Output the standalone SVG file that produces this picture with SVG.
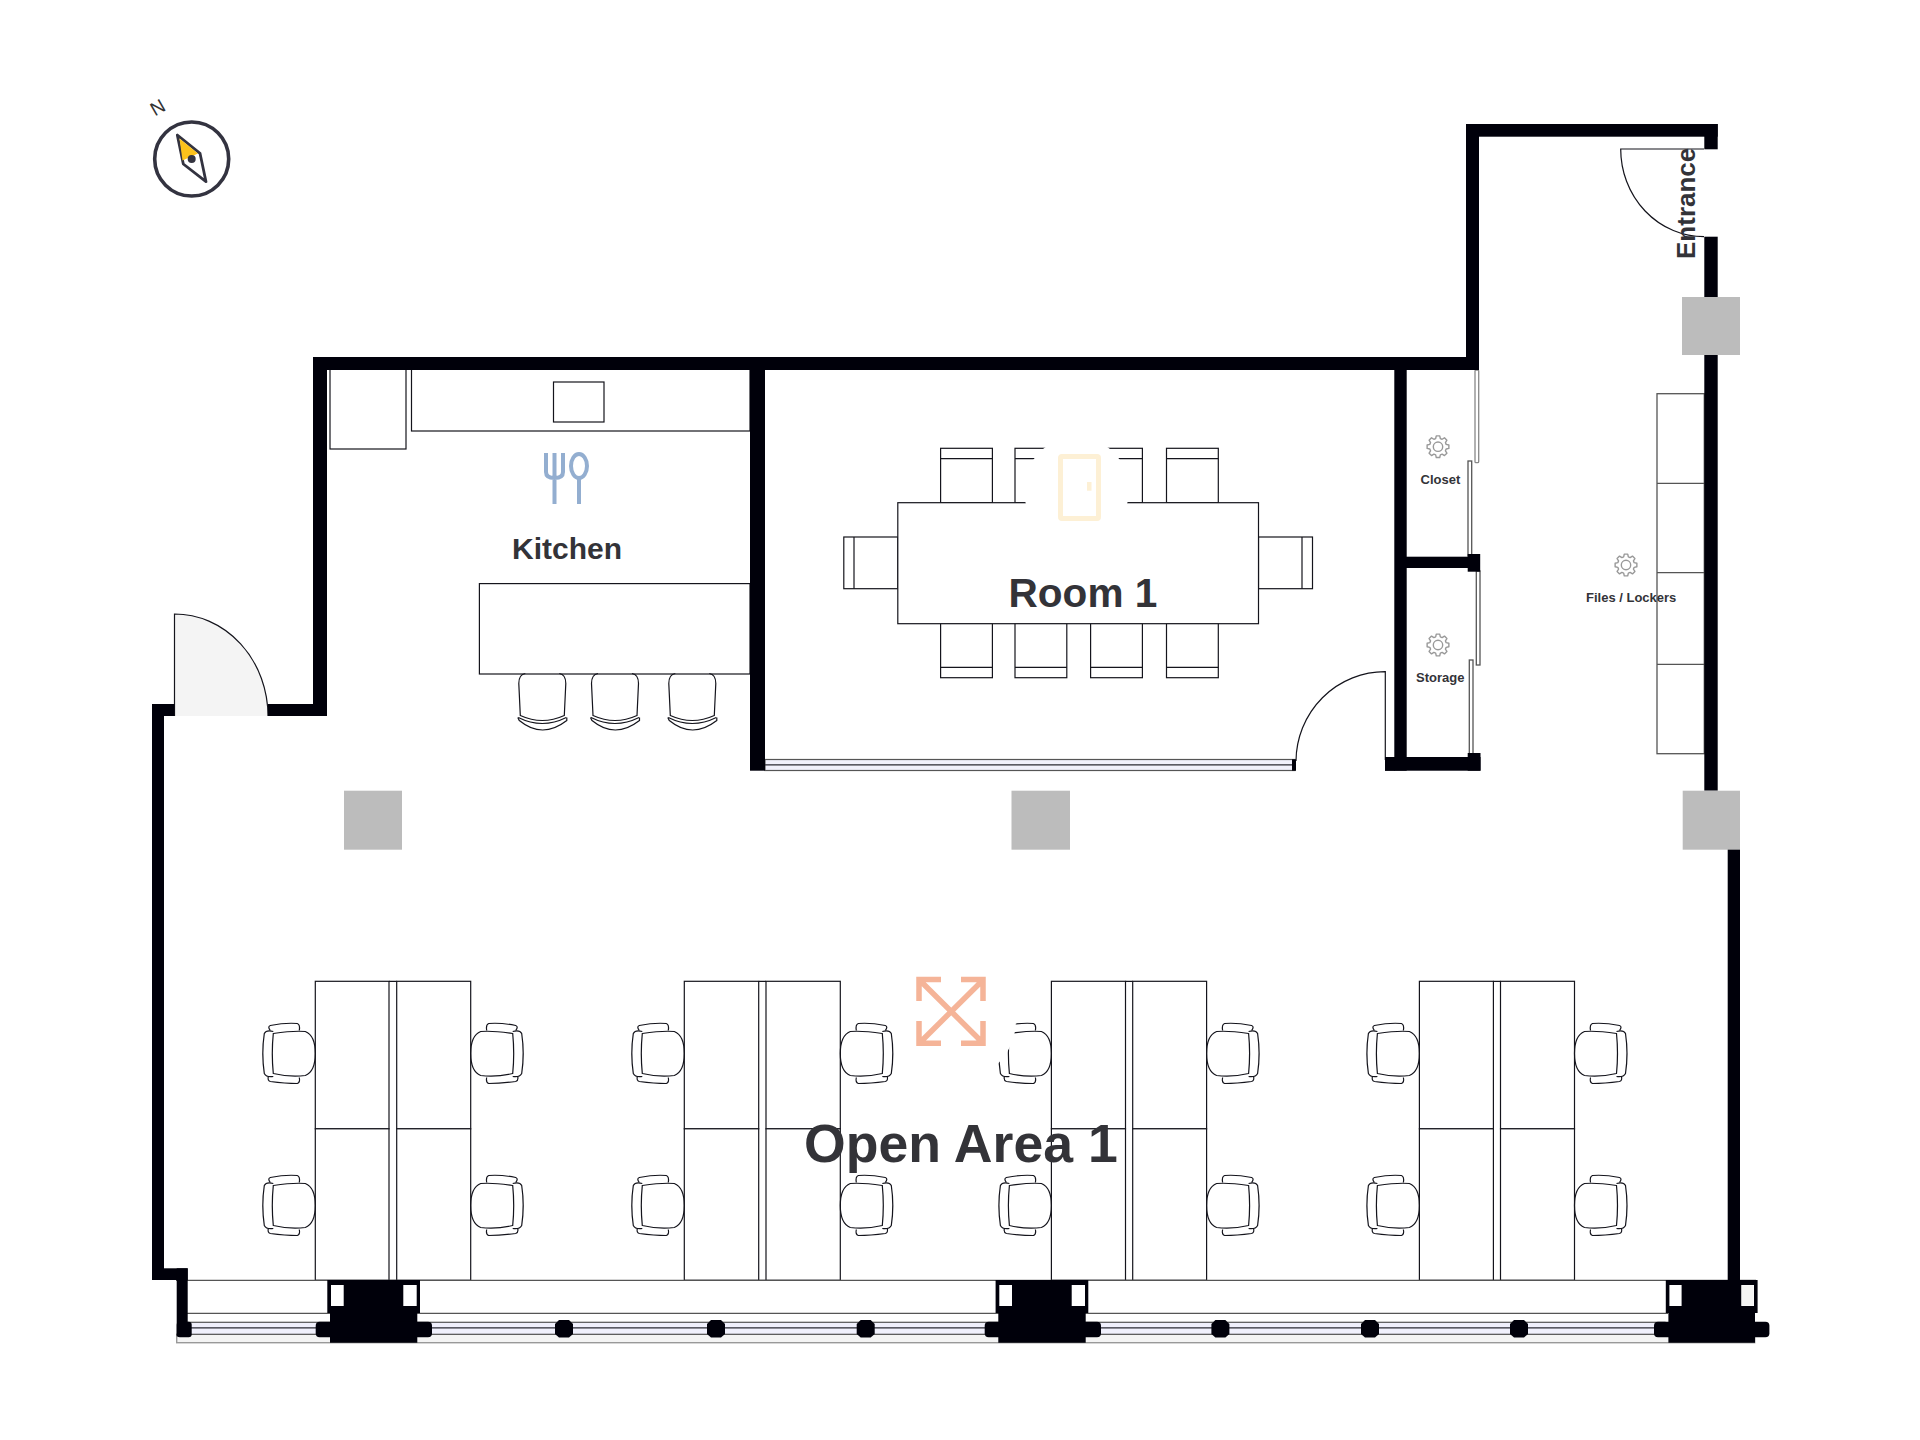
<svg xmlns="http://www.w3.org/2000/svg" width="1920" height="1440" viewBox="0 0 1920 1440">
<style>
.w{fill:#00000a}
.l{fill:none;stroke:#14141c;stroke-width:1.2}
.f{fill:#fff;stroke:#14141c;stroke-width:1.2}
.c{fill:#bcbcbc}
.t{font-family:"Liberation Sans",Arial,sans-serif;font-weight:700;fill:#333338}
.pl{fill:#fff;stroke:#555;stroke-width:1.3}
.win{fill:#f0f0fc;stroke:#555;stroke-width:1.2}
.g{fill:none;stroke:#999;stroke-width:1.4;stroke-linejoin:round}
</style>
<defs>
<g id="dc" class="l">
<path d="M-42 -20Q-22 -23 -10 -22Q0 -18 0 0Q0 18 -10 22Q-25 24 -42 20Q-44 0 -42 -20Z"/>
<path d="M-42 -22Q-49 -24 -51 -20Q-54 0 -51 20Q-49 24 -42 23"/>
<path d="M-45 -23Q-48 -27 -45 -28Q-30 -31 -18 -30Q-15 -29 -16 -23"/>
<path d="M-47 23Q-48 27 -45 28Q-30 30 -18 30Q-15 29 -16 24"/>
</g>
<g id="st" class="l">
<path d="M-17 0Q-23.5 1 -23.5 10L-22 42Q0 52 22 42L23.5 10Q23.5 1 17 0"/>
<path d="M-24 44Q0 56 24 44"/>
<path d="M-24.5 44L-23 47Q0 66 24.5 47L24.5 44"/>
</g>
<g id="cht" class="f">
<rect x="0" y="0" width="51.8" height="54.4"/>
<path d="M0 10.4H51.8"/>
</g>
<polygon id="gear" class="g" points="10.87,1.72 8.17,2.34 7.43,4.12 8.9,6.47 6.47,8.9 4.12,7.43 2.34,8.17 1.72,10.87 -1.72,10.87 -2.34,8.17 -4.12,7.43 -6.47,8.9 -8.9,6.47 -7.43,4.12 -8.17,2.34 -10.87,1.72 -10.87,-1.72 -8.17,-2.34 -7.43,-4.12 -8.9,-6.47 -6.47,-8.9 -4.12,-7.43 -2.34,-8.17 -1.72,-10.87 1.72,-10.87 2.34,-8.17 4.12,-7.43 6.47,-8.9 8.9,-6.47 7.43,-4.12 8.17,-2.34 10.87,-1.72"/>
<path id="mul" class="w" d="M-9 -5L-5 -9H5L9 -5V5L5 8.5H-5L-9 5Z"/>
</defs>
<rect width="1920" height="1440" fill="#fff"/>

<g id="furniture-kitchen">
<rect class="f" x="330" y="369" width="76" height="80"/>
<rect class="f" x="411.5" y="369" width="338.5" height="62"/>
<rect class="f" x="553.5" y="382" width="50.5" height="40"/>
<rect class="f" x="479.4" y="583.6" width="270.6" height="90.4"/>
<use href="#st" x="542.3" y="673.5"/>
<use href="#st" x="615" y="673.5"/>
<use href="#st" x="692.3" y="673.5"/>
</g>

<g id="furniture-room1">
<use href="#cht" x="940.6" y="448.3"/>
<use href="#cht" x="1015" y="448.3"/>
<use href="#cht" x="1090.6" y="448.3"/>
<use href="#cht" x="1166.5" y="448.3"/>
<use href="#cht" transform="translate(940.6 677.7) scale(1 -1)"/>
<use href="#cht" transform="translate(1015 677.7) scale(1 -1)"/>
<use href="#cht" transform="translate(1090.6 677.7) scale(1 -1)"/>
<use href="#cht" transform="translate(1166.5 677.7) scale(1 -1)"/>
<rect class="f" x="843.8" y="537" width="54" height="51.7"/>
<path class="l" d="M854 537V588.7"/>
<rect class="f" x="1258.5" y="537" width="54" height="51.7"/>
<path class="l" d="M1302 537V588.7"/>
<rect class="f" x="897.8" y="502.7" width="360.7" height="121"/>
</g>

<g id="furniture-open-area">
<g id="desk-1" class="f"><rect x="315.3" y="981.3" width="73.7" height="147.5"/><rect x="396.7" y="981.3" width="74" height="147.5"/><rect x="315.3" y="1128.8" width="73.7" height="151.5"/><rect x="396.7" y="1128.8" width="74" height="151.5"/><path d="M389 981.3H396.7M389 1280.3H396.7"/></g>
<g id="desk-2" class="f"><rect x="684.3" y="981.3" width="74.4" height="147.5"/><rect x="766" y="981.3" width="74.3" height="147.5"/><rect x="684.3" y="1128.8" width="74.4" height="151.5"/><rect x="766" y="1128.8" width="74.3" height="151.5"/><path d="M758.7 981.3H766M758.7 1280.3H766"/></g>
<g id="desk-3" class="f"><rect x="1051.4" y="981.3" width="74.1" height="147.5"/><rect x="1132.7" y="981.3" width="73.9" height="147.5"/><rect x="1051.4" y="1128.8" width="74.1" height="151.5"/><rect x="1132.7" y="1128.8" width="73.9" height="151.5"/><path d="M1125.5 981.3H1132.7M1125.5 1280.3H1132.7"/></g>
<g id="desk-4" class="f"><rect x="1419.4" y="981.3" width="74" height="147.5"/><rect x="1500.5" y="981.3" width="74" height="147.5"/><rect x="1419.4" y="1128.8" width="74" height="151.5"/><rect x="1500.5" y="1128.8" width="74" height="151.5"/><path d="M1493.4 981.3H1500.5M1493.4 1280.3H1500.5"/></g>
<use href="#dc" x="315.3" y="1053.5"/><use href="#dc" x="315.3" y="1205.5"/>
<use href="#dc" transform="translate(470.7 1053.5) scale(-1 1)"/><use href="#dc" transform="translate(470.7 1205.5) scale(-1 1)"/>
<use href="#dc" x="684.3" y="1053.5"/><use href="#dc" x="684.3" y="1205.5"/>
<use href="#dc" transform="translate(840.3 1053.5) scale(-1 1)"/><use href="#dc" transform="translate(840.3 1205.5) scale(-1 1)"/>
<use href="#dc" x="1051.4" y="1053.5"/><use href="#dc" x="1051.4" y="1205.5"/>
<use href="#dc" transform="translate(1206.6 1053.5) scale(-1 1)"/><use href="#dc" transform="translate(1206.6 1205.5) scale(-1 1)"/>
<use href="#dc" x="1419.4" y="1053.5"/><use href="#dc" x="1419.4" y="1205.5"/>
<use href="#dc" transform="translate(1574.5 1053.5) scale(-1 1)"/><use href="#dc" transform="translate(1574.5 1205.5) scale(-1 1)"/>
</g>

<g id="lockers" class="pl">
<rect x="1657" y="393.7" width="47.3" height="360"/>
<path d="M1657 483.3H1704M1657 572.7H1704M1657 664.3H1704"/>
</g>

<g id="windows">
<path class="pl" d="M176 1280.3H1756M187 1313.3H1668"/>
<rect x="176.7" y="1334.3" width="1578" height="8.4" fill="#f4f4f4" stroke="#999" stroke-width="1.4"/>
<rect class="win" x="185" y="1322.3" width="1480" height="12"/>
<path d="M185 1327.8H1665" stroke="#2a2a33" stroke-width="1.2"/>
<rect class="win" x="765" y="759.5" width="530" height="11"/>
<path d="M765 764.8H1295" stroke="#2a2a33" stroke-width="1.2"/>
</g>

<g id="doors">
<path d="M174.5 716V614A93.5 102 0 0 1 268 716Z" fill="#f4f4f4"/>
<path class="l" d="M174.5 716V614A93.5 102 0 0 1 268 716"/>
<path class="l" d="M1704 149H1620.7A83.3 87.7 0 0 0 1704 236.7"/>
<path class="l" d="M1385.3 760V671.7A89 90 0 0 0 1296 761"/>
<g class="pl">
<rect x="1475" y="370" width="3.7" height="92.7" rx="1" stroke="#888"/>
<rect x="1468" y="461" width="3.7" height="95"/>
<rect x="1476.3" y="571" width="3.7" height="94"/>
<rect x="1469.3" y="660" width="3.7" height="95"/>
</g>
</g>

<g id="walls" class="w">
<rect x="313" y="357" width="1166" height="13"/>
<rect x="313" y="357" width="14" height="359"/>
<rect x="268" y="704" width="59" height="12"/>
<rect x="152" y="704" width="22.5" height="12"/>
<rect x="152" y="704" width="12" height="576"/>
<rect x="152" y="1268.3" width="35.7" height="11.7"/>
<rect x="176.7" y="1268.3" width="11" height="68"/>
<rect x="176.7" y="1321.7" width="15" height="15.6" rx="3"/>
<rect x="750" y="357" width="15" height="413.7"/>
<rect x="1466" y="124" width="13" height="246"/>
<rect x="1466" y="124" width="251.7" height="12.7"/>
<rect x="1704.3" y="124" width="13.4" height="25.3"/>
<rect x="1704.3" y="236.7" width="13.4" height="554"/>
<rect x="1727.7" y="849" width="12.3" height="431"/>
<rect x="1394.3" y="370" width="12.4" height="400.7"/>
<rect x="1406" y="556.7" width="74" height="11.3"/>
<rect x="1467.7" y="554" width="12.5" height="17.7"/>
<rect x="1385" y="757" width="95.5" height="13.7"/>
<rect x="1385" y="760.7" width="10" height="10"/>
<rect x="1467.7" y="753" width="12.8" height="17.7"/>
<rect x="1292" y="759.3" width="4" height="11.4"/>
<g id="pier-1"><path fill-rule="evenodd" d="M327.3 1280H420V1313H417.3V1342.7H330V1313H327.3ZM331 1285V1306H343.7V1285ZM403.3 1285V1306H416.7V1285Z"/><rect x="315.7" y="1321.7" width="116.3" height="15.6" rx="4"/></g>
<g id="pier-2"><path fill-rule="evenodd" d="M995.6 1280H1088.3V1313H1085.7V1342.7H998.3V1313H995.6ZM999.3 1285V1306H1012V1285ZM1071.7 1285V1306H1085V1285Z"/><rect x="984.7" y="1321.7" width="116.3" height="15.6" rx="4"/></g>
<g id="pier-3"><path fill-rule="evenodd" d="M1665.8 1280H1757.6V1313H1755V1342.7H1668.4V1313H1665.8ZM1669.4 1285V1306H1681.6V1285ZM1741.3 1285V1306H1754V1285Z"/><rect x="1654" y="1321.7" width="115.4" height="15.6" rx="4"/><rect x="1741.8" y="1285.5" width="11.7" height="20" fill="#f4f4f4"/></g>
<use href="#mul" x="564" y="1329"/><use href="#mul" x="716" y="1329"/><use href="#mul" x="865.7" y="1329"/>
<use href="#mul" x="1220.4" y="1329"/><use href="#mul" x="1370" y="1329"/><use href="#mul" x="1519" y="1329"/>
</g>

<g id="columns" class="c">
<rect x="1682" y="297" width="58" height="58"/>
<rect x="1682.7" y="790.7" width="57.3" height="59"/>
<rect x="344" y="790.7" width="58" height="59"/>
<rect x="1011.5" y="790.7" width="58.5" height="59"/>
</g>

<g id="icon-kitchen" fill="none" stroke="#93aed0" stroke-width="4">
<path d="M546 453V472Q546 478 554.5 478Q563 478 563 472V453M554.5 453V504"/>
<ellipse cx="579" cy="466" rx="8" ry="12"/>
<path d="M579 478V504"/>
</g>

<g id="icon-door">
<circle cx="1076.5" cy="489.7" r="52.6" fill="#fff"/>
<rect x="1060.5" y="456.5" width="38" height="62" rx="1.5" fill="none" stroke="#fdf0d5" stroke-width="5"/>
<rect x="1087" y="482" width="4.5" height="8.7" fill="#fdf0d5"/>
</g>

<g id="icon-expand">
<circle cx="954" cy="1020" r="62" fill="#fff"/>
<path fill="none" stroke="#f5b498" stroke-width="5.5" d="M919 1001V979.5H941M983 1001V979.5H961M919 1021V1043.3H941M983 1021V1043.3H961M919.5 980L983 1043M983 980L919.5 1043"/>
</g>

<g id="icons-gears">
<g transform="translate(1438 446.7)"><use href="#gear"/><circle r="4.7" class="g"/></g>
<g transform="translate(1438 645)"><use href="#gear"/><circle r="4.7" class="g"/></g>
<g transform="translate(1626 565)"><use href="#gear"/><circle r="4.7" class="g"/></g>
</g>

<g id="compass">
<circle cx="191.7" cy="159" r="37" fill="#fff" stroke="#333340" stroke-width="3.6"/>
<polygon points="177.3,135 200,153.3 206,181.7 183.3,164" fill="#fff" stroke="#333340" stroke-width="2.8" stroke-linejoin="round"/>
<polygon points="179.5,138.5 198,153.5 182.5,160.5" fill="#fcc21b"/>
<circle cx="191.7" cy="159" r="4" fill="#333340"/>
<text x="0" y="0" transform="translate(155 116.5) rotate(-30)" style="font-family:'Liberation Sans',Arial,sans-serif;font-size:19px" fill="#333">N</text>
</g>

<g id="labels">
<text class="t" x="512" y="559" font-size="30">Kitchen</text>
<text class="t" x="1008.5" y="607" font-size="40.6">Room 1</text>
<text class="t" x="804" y="1161.7" font-size="53.6">Open Area 1</text>
<text class="t" transform="translate(1695 259) rotate(-90)" font-size="26">Entrance</text>
<text class="t" x="1420.5" y="484" font-size="13">Closet</text>
<text class="t" x="1416" y="682" font-size="13">Storage</text>
<text class="t" x="1586" y="602" font-size="13">Files / Lockers</text>
</g>
</svg>
